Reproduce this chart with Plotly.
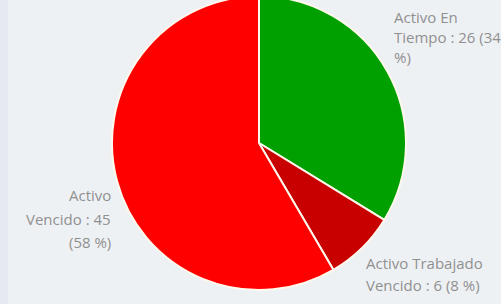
import textwrap
import plotly.graph_objects as go

labels = ["Activo En Tiempo", "Activo Trabajado Vencido", "Activo Vencido"]
values = [26, 6, 45]
colors = ["#00A000", "#C80000", "#FF0000"]
wrap_widths = [15, 17, 12]

W, H = 501, 308
SHIFT = 4  # page is shifted up by this many px so the pie top is clipped like the reference

fig = go.Figure(go.Pie(
    labels=labels,
    values=values,
    sort=False,
    direction="clockwise",
    rotation=0,
    marker=dict(colors=colors, line=dict(color="#FFF8EC", width=2)),
    textinfo="none",
    hoverinfo="label+value+percent",
    showlegend=False,
    domain=dict(x=[112 / W, 406 / W], y=[(H - 294) / H, 1]),
))

total = sum(values)
# label placement (pixel anchors, in page coordinates) and line spacing
anchors = [
    dict(x=392, y=17, dy=20, align="left"),
    dict(x=364, y=263, dy=22, align="left"),
    dict(x=113, y=195, dy=23.5, align="right"),
]
annotations = []
for lab, val, ww, a in zip(labels, values, wrap_widths, anchors):
    pct = round(100 * val / total)
    full = f"{lab} : {val} ({pct} %)"
    for i, line in enumerate(textwrap.wrap(full, ww)):
        annotations.append(dict(
            x=a["x"] / W, y=1 - (a["y"] + SHIFT + i * a["dy"]) / H,
            xref="paper", yref="paper",
            text=line, showarrow=False,
            xanchor=a["align"], yanchor="middle",
            font=dict(family="Open Sans", size=15, color="#909090"),
        ))

fig.update_layout(
    width=W, height=H,
    margin=dict(l=0, r=0, t=0, b=0),
    paper_bgcolor="#EEF1F4",
    plot_bgcolor="#EEF1F4",
    annotations=annotations,
    shapes=[dict(type="rect", xref="paper", yref="paper", x0=0, x1=8 / W, y0=0, y1=1,
                 fillcolor="#E6EAF0", line=dict(width=0), layer="below")],
)

fig.write_html(
    "out.html",
    config={"displayModeBar": False},
    post_script=(
        "document.body.style.margin='0';"
        f"document.body.style.marginTop='-{SHIFT}px';"
        "document.body.style.overflow='hidden';"
        "document.body.style.background='#EEF1F4';"
    ),
)
